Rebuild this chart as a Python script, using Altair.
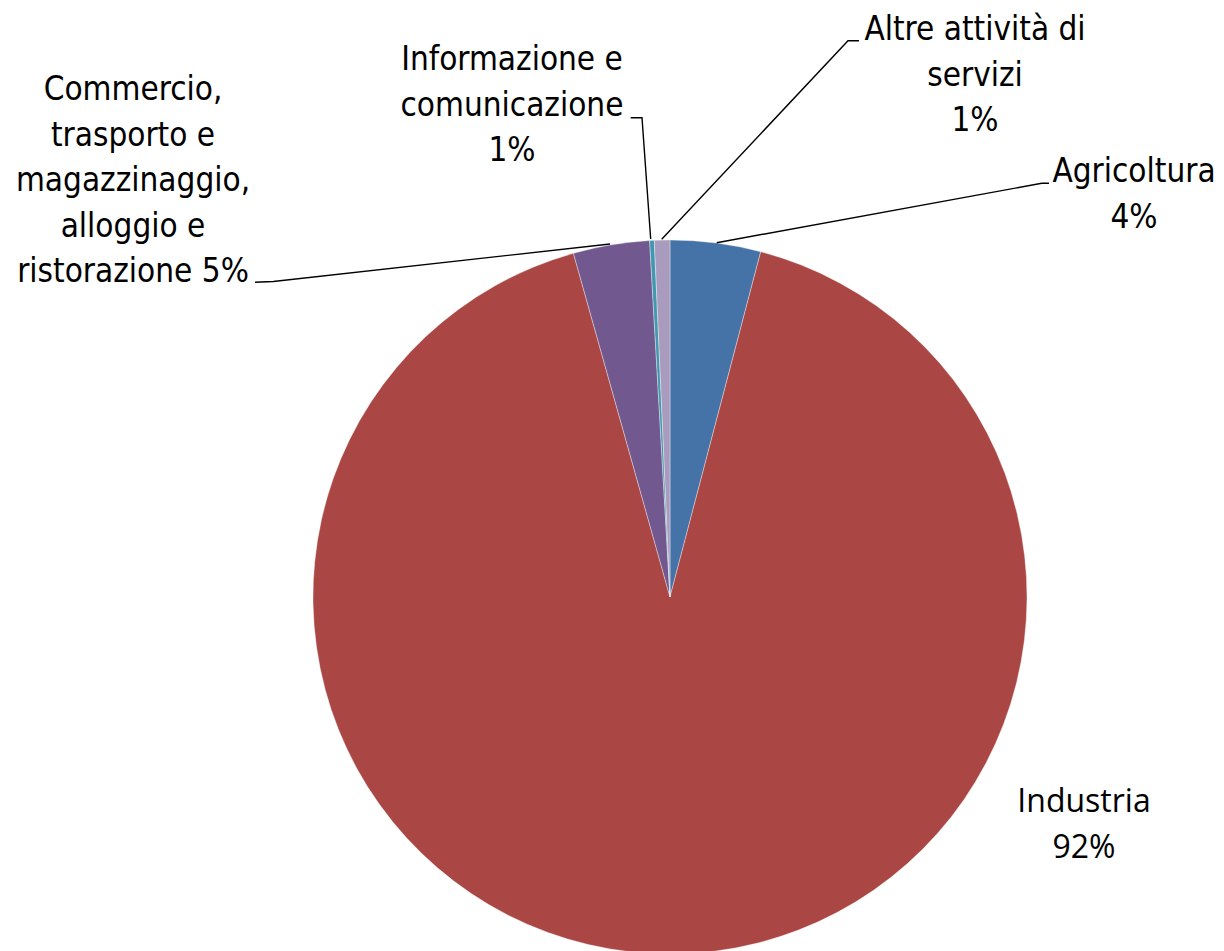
import altair as alt
import pandas as pd

# --- data ---
categories = ["Agricoltura", "Industria",
              "Commercio, trasporto e magazzinaggio, alloggio e ristorazione",
              "Informazione e comunicazione", "Altre attività di servizi"]
shares = [4.09, 91.55, 3.45, 0.21, 0.70]
colors = ["#4572A7", "#AA4643", "#71588F", "#4198AF", "#A99BBD"]

label_lines = [
    "Agricoltura\n4%",
    "Industria\n92%",
    "Commercio,\ntrasporto e\nmagazzinaggio,\nalloggio e\nristorazione 5%",
    "Informazione e\ncomunicazione\n1%",
    "Altre attività di\nservizi\n1%",
]

# --- layout (annotation placement, plot coordinates; y = first line centre) ---
CX, CY, R = 662, 589, 357
label_x = [1126, 1076, 125, 504, 967]
label_y = [164, 794, 82, 52, 22]

NARROW = "'DejaVu Sans Condensed', Roboto, sans-serif"

# leader lines: (group, order, x, y)
leader_pts = [
    ("Agricoltura", 0, 1041, 175.3), ("Agricoltura", 1, 1033.7, 175.3), ("Agricoltura", 2, 708.7, 234.7),
    ("Commercio", 0, 247, 274.3), ("Commercio", 1, 265.3, 273.5), ("Commercio", 2, 602, 236),
    ("Informazione", 0, 622.7, 109.7), ("Informazione", 1, 634, 109.7), ("Informazione", 2, 642.7, 231),
    ("Altre", 0, 851, 32.7), ("Altre", 1, 840, 32.7), ("Altre", 2, 653.7, 231.3),
]

pie_df = pd.DataFrame({"cat": categories, "share": shares, "ord": list(range(len(categories)))})

pie = alt.Chart(pie_df).mark_arc(stroke="#ffffff", strokeWidth=0.6, strokeOpacity=0.6).encode(
    theta=alt.Theta("share:Q", stack=True),
    order=alt.Order("ord:Q"),
    color=alt.Color("cat:N", scale=alt.Scale(domain=categories, range=colors), legend=None),
    x=alt.value(CX), y=alt.value(CY), radius=alt.value(R),
)

xs = alt.Scale(domain=[0, 1208], range=[0, 1208])
ys = alt.Scale(domain=[0, 960], range=[0, 960])

lead_df = pd.DataFrame(leader_pts, columns=["grp", "o", "x", "y"])
leaders = alt.Chart(lead_df).mark_line(color="#000000", strokeWidth=1.4).encode(
    x=alt.X("x:Q", scale=xs, axis=None),
    y=alt.Y("y:Q", scale=ys, axis=None),
    detail="grp:N",
    order="o:Q",
)

lab_df = pd.DataFrame({"text": label_lines, "x": label_x, "y": label_y})
narrow = alt.Chart(lab_df.drop(index=1)).mark_text(
    font=NARROW, fontSize=33, lineHeight=45.5, align="center",
    baseline="middle", color="#000000", lineBreak="\n"
).encode(
    x=alt.X("x:Q", scale=xs, axis=None),
    y=alt.Y("y:Q", scale=ys, axis=None),
    text="text:N",
)
wide = alt.Chart(lab_df.iloc[[1]]).mark_text(
    font="Open Sans", fontSize=32, lineHeight=46, align="center",
    baseline="middle", color="#000000", lineBreak="\n"
).encode(
    x=alt.X("x:Q", scale=xs, axis=None),
    y=alt.Y("y:Q", scale=ys, axis=None),
    text="text:N",
)

chart = alt.layer(pie, leaders, narrow, wide).resolve_scale(x="shared", y="shared").properties(
    width=1208, height=960, autosize=alt.AutoSizeParams(type="none"), padding=0
).configure_view(stroke=None)

chart.save("out.html", embed_options={"renderer": "svg", "actions": False})
